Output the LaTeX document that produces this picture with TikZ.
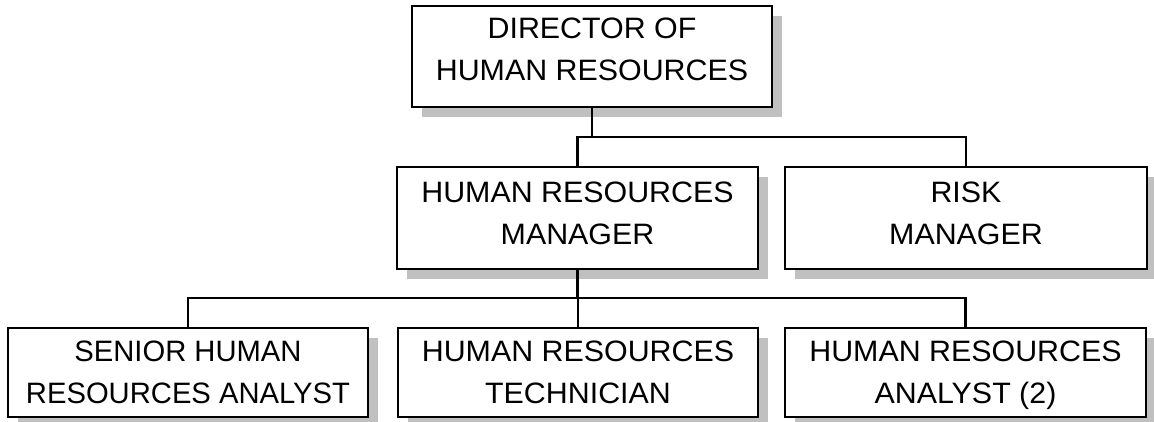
\documentclass[tikz,border=0pt]{standalone}
\usepackage{fontspec}
\setmainfont{Liberation Sans}[FakeStretch=1.03]
\newfontfamily\condensedsans{Liberation Sans}[FakeStretch=0.99]
\usetikzlibrary{fit,shadows}
\definecolor{shadowgray}{RGB}{192,192,192}
\tikzset{
  box/.style={draw=black, line width=2.9pt, fill=white, inner sep=0pt, outer sep=0pt,
    drop shadow={shadow xshift=10pt, shadow yshift=-10pt, fill=shadowgray, opacity=1}},
  conn/.style={draw=black, line width=2.9pt},
  txt/.style={font=\fontsize{29.5}{41.5}\selectfont, align=center, inner sep=0pt, anchor=north}
}
\begin{document}
\begin{tikzpicture}[x=1pt,y=-1pt]
\useasboundingbox (0,0) rectangle (1154,422);
% boxes
\node[box, fit={(412,6) (772,107)}] (dir) {};
\node[box, fit={(397,167) (758,269)}] (hrm) {};
\node[box, fit={(785,167) (1147,269)}] (risk) {};
\node[box, fit={(8,328) (368,417)}] (sen) {};
\node[box, fit={(398,328) (758,417)}] (tech) {};
\node[box, fit={(785,328) (1146,417)}] (ana) {};
% texts
\node[txt] (dirt) at (dir.center |- 0,18) {DIRECTOR OF\\HUMAN RESOURCES};
\node[txt] (hrmt) at (hrm.center |- 0,182) {HUMAN RESOURCES\\MANAGER};
\node[txt] (riskt) at (risk.center |- 0,182) {RISK\\MANAGER};
\node[txt, font=\condensedsans\fontsize{29.5}{41.5}\selectfont] (sent) at (sen.center |- 0,341) {SENIOR HUMAN\\RESOURCES ANALYST};
\node[txt] (techt) at (tech.center |- 0,341) {HUMAN RESOURCES\\TECHNICIAN};
\node[txt] (anat) at (ana.center |- 0,341) {HUMAN RESOURCES\\ANALYST (2)};
% connectors
\coordinate (bus1) at (0,137);
\coordinate (bus2) at (0,298);
\draw[conn] (dir.south) -- (dir.south |- bus1);
\draw[conn] (hrm.north) |- (bus1 -| risk.north) -- (risk.north);
\draw[conn] (hrm.south) -- (hrm.south |- bus2);
\draw[conn] (sen.north) |- (bus2 -| ana.north) -- (ana.north);
\draw[conn] (tech.north) -- (tech.north |- bus2);
\end{tikzpicture}
\end{document}
